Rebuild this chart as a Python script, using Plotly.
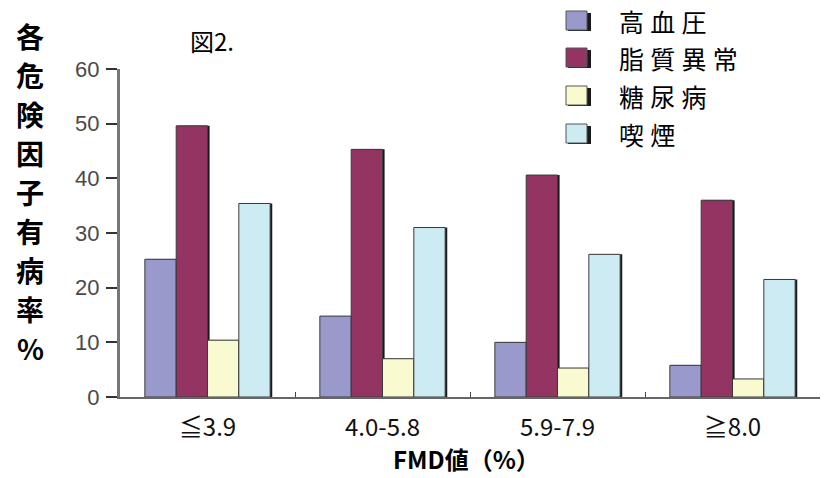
import plotly.graph_objects as go

# FMD value groups and risk-factor prevalence (%)
categories = ["≦3.9", "4.0-5.8", "5.9-7.9", "≧8.0"]
series_names = ["高血圧", "脂質異常", "糖尿病", "喫煙"]
hypertension = [25.2, 14.8, 10.0, 5.8]
dyslipidemia = [49.6, 45.3, 40.6, 36.0]
diabetes = [10.4, 7.0, 5.3, 3.3]
smoking = [35.4, 31.0, 26.1, 21.5]
y_ticks = [0, 10, 20, 30, 40, 50, 60]
y_title = "各危険因子有病率%"

series_values = [hypertension, dyslipidemia, diabetes, smoking]
colors = ["#9999cc", "#943463", "#fafad0", "#cdebf2"]

bar_w = 0.179
group_start = -2 * bar_w
shadow_shift = 0.012

fig = go.Figure()
for i, (name, vals, col) in enumerate(zip(series_names, series_values, colors)):
    off = group_start + i * bar_w
    # dark drop shadow on the right side of each bar
    fig.add_trace(go.Bar(
        x=categories, y=vals, width=bar_w, offset=off + shadow_shift,
        marker=dict(color="#1a1a1a", line=dict(width=0)),
        showlegend=False, hoverinfo="skip",
    ))
    fig.add_trace(go.Bar(
        x=categories, y=vals, width=bar_w, offset=off, name=name,
        marker=dict(color=col, line=dict(color="#3a3a3a", width=1)),
        showlegend=False,
    ))

fig.update_layout(
    width=830, height=478,
    margin=dict(l=120, r=10, t=69, b=81),
    barmode="overlay",
    plot_bgcolor="white", paper_bgcolor="white",
    font=dict(family="Noto Sans CJK JP", color="black"),
    xaxis=dict(
        type="category", range=[-0.5, 3.5],
        showline=True, linecolor="#666666", linewidth=2,
        ticks="inside", tickson="boundaries", ticklen=5, tickcolor="#444444",
        tickfont=dict(family="Noto Sans CJK JP", size=24, color="#111111"),
        ticklabelstandoff=8,
        showgrid=False, zeroline=False,
    ),
    yaxis=dict(
        range=[0, 60], tickvals=y_ticks,
        showline=True, linecolor="#777777", linewidth=3,
        ticks="outside", ticklen=11, tickcolor="#333333", tickwidth=2,
        tickfont=dict(family="Liberation Sans", size=22, color="#4a4a4a"),
        ticklabelstandoff=2,
        showgrid=False, zeroline=False,
    ),
)

# vertical y-axis title, one bold character per row
for k, ch in enumerate(y_title):
    yc = 36 + 39 * k
    fig.add_annotation(
        text=f"<b>{ch}</b>", xref="paper", yref="paper",
        x=(30 - 120) / 700, y=(397 - yc) / 328, xanchor="center", yanchor="middle",
        showarrow=False, font=dict(size=28, color="black", family="Noto Sans CJK JP"),
    )

# figure label
fig.add_annotation(
    text="図2.", xref="paper", yref="paper",
    x=(212 - 120) / 700, y=(397 - 41) / 328, xanchor="center", yanchor="middle",
    showarrow=False, font=dict(size=24, color="black"),
)

# x-axis title
fig.add_annotation(
    text="<b>FMD値（%）</b>", xref="paper", yref="paper",
    x=(466 - 120) / 700, y=(397 - 458) / 328, xanchor="center", yanchor="middle",
    showarrow=False, font=dict(size=24, color="black"),
)

# legend: swatches with a dark shadow edge and labels
row_centers = [21, 58, 96, 134]
for name, col, yc in zip(series_names, colors, row_centers):
    fig.add_shape(type="rect", xref="paper", yref="paper",
                  x0=(568 - 120) / 700, x1=(591 - 120) / 700,
                  y0=(397 - yc - 10) / 328, y1=(397 - yc + 8) / 328,
                  fillcolor="#1a1a1a", line=dict(width=0))
    fig.add_shape(type="rect", xref="paper", yref="paper",
                  x0=(566 - 120) / 700, x1=(587 - 120) / 700,
                  y0=(397 - yc - 9) / 328, y1=(397 - yc + 10) / 328,
                  fillcolor=col, line=dict(color="#555555", width=1))
    fig.add_annotation(
        text="\u2005".join(name), xref="paper", yref="paper",
        x=(617 - 120) / 700, y=(397 - yc) / 328, xanchor="left", yanchor="middle",
        showarrow=False, font=dict(size=25, color="black"),
    )

fig.write_html("out.html")
